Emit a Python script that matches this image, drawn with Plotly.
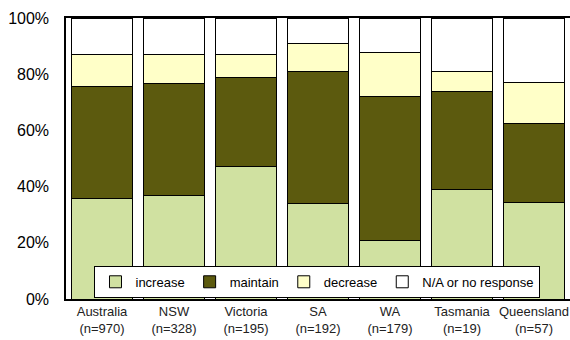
import plotly.graph_objs as go

# regions and their sample sizes
regions = ["Australia", "NSW", "Victoria", "SA", "WA", "Tasmania", "Queensland"]
sample_n = [970, 328, 195, 192, 179, 19, 57]

# share of responses (%)
increase = [35.8, 37.0, 47.0, 33.9, 20.9, 38.9, 34.4]
maintain = [40.0, 39.8, 31.8, 47.0, 51.0, 34.9, 28.0]
decrease = [11.1, 10.1, 8.1, 10.1, 15.9, 7.1, 14.8]
no_response = [13.1, 13.1, 13.1, 9.0, 12.2, 19.1, 22.8]

tick_vals = [0, 20, 40, 60, 80, 100]
tick_text = ["0%", "20%", "40%", "60%", "80%", "100%"]

labels = ["{}<br>(n={})".format(r, n) for r, n in zip(regions, sample_n)]

series = [
    ("increase", increase, "#d0e1a1"),
    ("maintain", maintain, "#5c5a0e"),
    ("decrease", decrease, "#ffffc8"),
    ("N/A or no response", no_response, "#ffffff"),
]

fig = go.Figure()
for name, vals, colour in series:
    fig.add_trace(go.Bar(
        x=labels, y=vals, name=name,
        marker=dict(color=colour, line=dict(color="#000000", width=1)),
    ))

fig.update_layout(
    width=570, height=340,
    margin=dict(l=66, r=0, t=18, b=41),
    barmode="stack",
    bargap=0.15,
    plot_bgcolor="white",
    paper_bgcolor="white",
    font=dict(family="Liberation Sans, Arial, sans-serif", color="#000000"),
    showlegend=True,
    legend=dict(
        orientation="h",
        x=0.499, y=0.118, xanchor="center", yanchor="top",
        bgcolor="white", bordercolor="#000000", borderwidth=1,
        font=dict(size=13),
        itemwidth=30,
        traceorder="normal",
        tracegroupgap=0,
    ),
)

fig.update_xaxes(
    showline=True, linecolor="#000000", linewidth=1.5, mirror=True,
    ticks="", tickfont=dict(size=13, color="#222222"),
)
fig.update_yaxes(
    range=[0, 100], tickvals=tick_vals, ticktext=tick_text,
    showgrid=False, zeroline=False,
    showline=True, linecolor="#000000", linewidth=1.5,
    ticks="", ticklabelstandoff=12,
    tickfont=dict(size=16),
)

# page has a default body margin; drop it so the figure sits at 0,0
fig.write_html("out.html", config={"displayModeBar": False},
               post_script="document.body.style.margin='0';")
